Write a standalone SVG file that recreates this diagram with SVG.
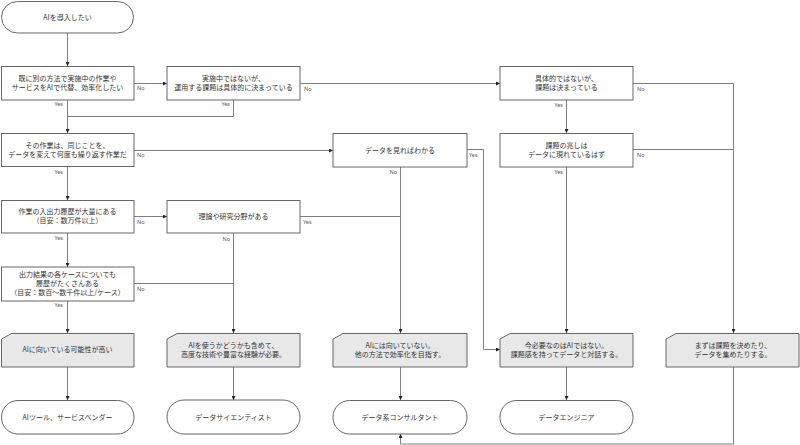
<svg xmlns="http://www.w3.org/2000/svg" width="800" height="445" viewBox="0 0 800 445">
<defs>
<marker id="ah" markerWidth="4" markerHeight="4" refX="4" refY="2" orient="auto" markerUnits="userSpaceOnUse">
<path d="M0,0 L4,2 L0,4 Z" fill="#222"/>
</marker>
<style>
.box{fill:#fff;stroke:#666;stroke-width:1}
.term{fill:#fff;stroke:#666;stroke-width:1}
.note{fill:#e8e8e8;stroke:#666;stroke-width:1}
.t{font-family:"Noto Sans CJK JP","Noto Sans",sans-serif;font-size:7px;fill:#333;text-anchor:middle}
.lb{font-family:"Noto Sans","Liberation Sans",sans-serif;font-size:5.5px;fill:#555}
.e{text-anchor:end}
.c{fill:none;stroke:#808080;stroke-width:1}
.a{marker-end:url(#ah)}
</style>
</defs>
<rect width="800" height="445" fill="#fff"/>
<g id="connectors">
<path class="c a" d="M67.5,33 V66"/>
<path class="c a" d="M134,83.5 H167"/>
<path class="c a" d="M67.5,100 V133"/>
<path class="c" d="M233.5,100 V116.5 H67.5"/>
<path class="c a" d="M300,83.5 H500"/>
<path class="c a" d="M566.5,100 V133"/>
<path class="c a" d="M633,83.5 H733.5 V333"/>
<path class="c" d="M633,149.5 H733.5"/>
<path class="c a" d="M566.5,167 V333"/>
<path class="c a" d="M134,150.5 H333"/>
<path class="c a" d="M67.5,166 V200"/>
<path class="c a" d="M467,149.5 H483.5 V349.5 H500"/>
<path class="c a" d="M400.5,167 V333"/>
<path class="c a" d="M134,216.5 H167"/>
<path class="c a" d="M67.5,233 V267"/>
<path class="c" d="M300,216.5 H400.5"/>
<path class="c a" d="M233.5,233 V333"/>
<path class="c" d="M134,283.5 H233.5"/>
<path class="c a" d="M67.5,301 V333"/>
<path class="c a" d="M67.5,367 V400"/>
<path class="c a" d="M233.5,367 V400"/>
<path class="c a" d="M400.5,367 V400"/>
<path class="c a" d="M566.5,367 V400"/>
<path class="c a" d="M733.5,367 V444 H400.5 V434"/>
<text class="lb" x="137" y="90">No</text>
<text class="lb e" x="63" y="106">Yes</text>
<text class="lb e" x="230" y="106">Yes</text>
<text class="lb" x="304" y="91">No</text>
<text class="lb e" x="563" y="107">Yes</text>
<text class="lb" x="637" y="91">No</text>
<text class="lb" x="637" y="157">No</text>
<text class="lb e" x="563" y="174">Yes</text>
<text class="lb" x="137" y="157">No</text>
<text class="lb e" x="63" y="174">Yes</text>
<text class="lb" x="469" y="157">Yes</text>
<text class="lb e" x="397" y="174">No</text>
<text class="lb" x="137" y="224">No</text>
<text class="lb e" x="63" y="240">Yes</text>
<text class="lb" x="303" y="224">Yes</text>
<text class="lb e" x="230" y="241">No</text>
<text class="lb" x="137" y="291">No</text>
<text class="lb e" x="63" y="307">Yes</text>
</g>
<g id="start">
<rect class="term" x="1.5" y="1.5" width="132" height="31.5" rx="16"/>
<text class="t" x="67.5" y="19.5">AIを導入したい</text>
</g>
<g id="q1">
<rect class="box" x="1.5" y="66.5" width="132.5" height="33.5"/>
<text class="t" x="67.5" y="81">既に別の方法で実施中の作業や</text>
<text class="t" x="67.5" y="90">サービスをAIで代替、効率化したい</text>
</g>
<g id="q2">
<rect class="box" x="167" y="66.5" width="133" height="33.5"/>
<text class="t" x="233.5" y="81">実施中ではないが、</text>
<text class="t" x="233.5" y="90">運用する課題は具体的に決まっている</text>
</g>
<g id="q3">
<rect class="box" x="500" y="66.5" width="133" height="33.5"/>
<text class="t" x="566.5" y="81">具体的ではないが、</text>
<text class="t" x="566.5" y="90">課題は決まっている</text>
</g>
<g id="q4">
<rect class="box" x="500" y="133.5" width="133" height="33.5"/>
<text class="t" x="566.5" y="148">課題の兆しは</text>
<text class="t" x="566.5" y="157">データに現れているはず</text>
</g>
<g id="q5">
<rect class="box" x="1.5" y="133.5" width="132.5" height="33"/>
<text class="t" x="67.5" y="147.5">その作業は、同じことを、</text>
<text class="t" x="67.5" y="156.5">データを変えて何度も繰り返す作業だ</text>
</g>
<g id="q6">
<rect class="box" x="333" y="133.5" width="134" height="33.5"/>
<text class="t" x="400" y="152.5">データを見ればわかる</text>
</g>
<g id="q7">
<rect class="box" x="1.5" y="200.5" width="132.5" height="32.5"/>
<text class="t" x="67.5" y="214">作業の入出力履歴が大量にある</text>
<text class="t" x="67.5" y="223">（目安：数万件以上）</text>
</g>
<g id="q8">
<rect class="box" x="167" y="200.5" width="133" height="32.5"/>
<text class="t" x="233.5" y="219">理論や研究分野がある</text>
</g>
<g id="q9">
<rect class="box" x="1.5" y="267" width="132.5" height="34"/>
<text class="t" x="67.5" y="276.5">出力結果の各ケースについても</text>
<text class="t" x="67.5" y="285.5">履歴がたくさんある</text>
<text class="t" x="67.5" y="294.5">（目安：数百〜数千件以上/ケース）</text>
</g>
<g id="n1">
<path class="note" d="M1.5,339 L11.5,333.5 H134 V367 H1.5 Z"/>
<text class="t" x="67.5" y="352">AIに向いている可能性が高い</text>
</g>
<g id="n2">
<path class="note" d="M167,339 L177,333.5 H300 V367 H167 Z"/>
<text class="t" x="233.5" y="348">AIを使うかどうかも含めて、</text>
<text class="t" x="233.5" y="357">高度な技術や豊富な経験が必要。</text>
</g>
<g id="n3">
<path class="note" d="M333,339 L343,333.5 H467 V367 H333 Z"/>
<text class="t" x="400" y="348">AIには向いていない。</text>
<text class="t" x="400" y="357">他の方法で効率化を目指す。</text>
</g>
<g id="n4">
<path class="note" d="M500,339 L510,333.5 H633 V367 H500 Z"/>
<text class="t" x="566.5" y="348">今必要なのはAIではない。</text>
<text class="t" x="566.5" y="357">課題感を持ってデータと対話する。</text>
</g>
<g id="n5">
<path class="note" d="M666,339 L676,333.5 H799 V367 H666 Z"/>
<text class="t" x="733" y="348">まずは課題を決めたり、</text>
<text class="t" x="733" y="357">データを集めたりする。</text>
</g>
<g id="r1">
<rect class="term" x="1.5" y="400.5" width="132.5" height="33.5" rx="16.5"/>
<text class="t" x="67.5" y="419.5">AIツール、サービスベンダー</text>
</g>
<g id="r2">
<rect class="term" x="167" y="400" width="133" height="34" rx="17"/>
<text class="t" x="233.5" y="419.5">データサイエンティスト</text>
</g>
<g id="r3">
<rect class="term" x="333" y="400.5" width="134" height="33.5" rx="16.5"/>
<text class="t" x="400" y="419.5">データ系コンサルタント</text>
</g>
<g id="r4">
<rect class="term" x="500" y="400.5" width="133" height="33.5" rx="16.5"/>
<text class="t" x="566.5" y="419.5">データエンジニア</text>
</g>
</svg>
